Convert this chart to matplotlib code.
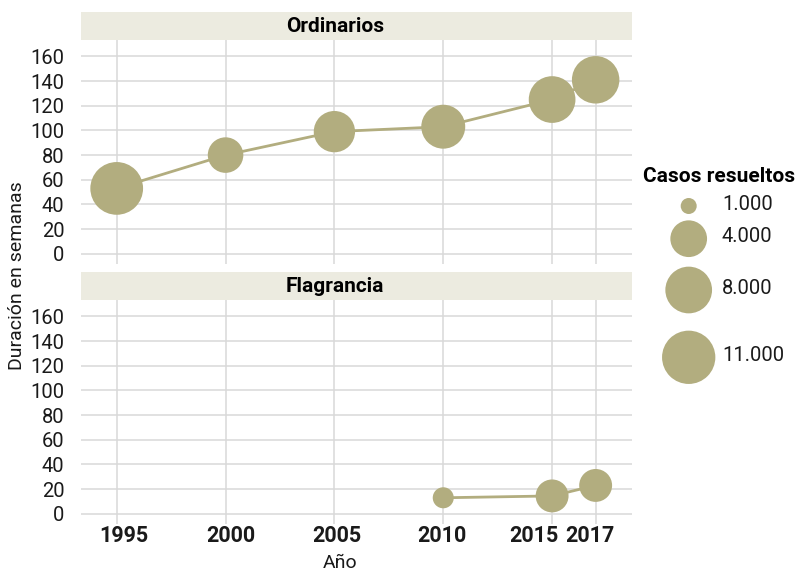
import numpy as np
import matplotlib
matplotlib.use("Agg")
import matplotlib.pyplot as plt
from matplotlib.patches import Rectangle
from matplotlib.transforms import blended_transform_factory, ScaledTranslation

# ---------------- data ----------------
ord_years = [1995, 2000, 2005, 2010, 2015, 2017]
ord_duration = [53, 80, 99, 103, 125, 141]
ord_cases = [10700, 3700, 5500, 6600, 8000, 8300]

flag_years = [2010, 2015, 2017]
flag_duration = [13, 14.5, 23]
flag_cases = [1400, 3100, 3100]

panels = ["Ordinarios", "Flagrancia"]
year_ticks = [1995, 2000, 2005, 2010, 2015, 2017]
y_ticks = [0, 20, 40, 60, 80, 100, 120, 140, 160]
legend_breaks = [1000, 4000, 8000, 11000]
legend_labels = ["1.000", "4.000", "8.000", "11.000"]

# ---------------- style ----------------
W, H = 801, 571
DPI = 100
PT = 72.0 / DPI
COL = "#b2ad7f"
STRIP = "#ecebe0"
GRID = "#d9d9d9"
TXT = "#1a1a1a"
FONT = ["Roboto", "DejaVu Sans"]
NARROW = ["Liberation Sans Narrow", "Roboto", "DejaVu Sans"]
plt.rcParams["font.family"] = FONT

legend_diam_px = [16, 36.7, 46.7, 53.3]
# horizontal nudges (pixels) of the year labels, as in the reference layout
xlabel_nudge_px = [7.4, 5.2, 2.8, -1.2, -18.0, -5.5]


def diam(v):
    return np.interp(np.log(np.asarray(v, float)), np.log(legend_breaks), legend_diam_px)


def msize(v):
    return (diam(v) * PT) ** 2


fig = plt.figure(figsize=(W / DPI, H / DPI), dpi=DPI)


def box(x0, y0, x1, y1):
    return [x0 / W, 1 - y1 / H, (x1 - x0) / W, (y1 - y0) / H]


PX0, PX1 = 81, 632
panel_rows = [(12, 40, 264), (272, 300, 524)]
series = [(ord_years, ord_duration, ord_cases), (flag_years, flag_duration, flag_cases)]

for i, (name, (s0, p0, p1), (xs, ys, cs)) in enumerate(zip(panels, panel_rows, series)):
    # strip
    sax = fig.add_axes(box(PX0, s0, PX1, p0))
    sax.set_xlim(0, 1); sax.set_ylim(0, 1)
    sax.add_patch(Rectangle((0, 0), 1, 1, color=STRIP, lw=0))
    sax.axis("off")
    sax.text((335 - PX0) / (PX1 - PX0), 0.5, name, ha="center", va="center",
             fontsize=15, fontweight="bold", family=NARROW, color="black")

    ax = fig.add_axes(box(PX0, p0, PX1, p1))
    ax.set_xlim(1993.36, 2018.67)
    ax.set_ylim(-8.25, 173.25)
    for sp in ax.spines.values():
        sp.set_visible(False)
    ax.set_yticks(y_ticks, labels=[str(v) for v in y_ticks], fontsize=14.5, color=TXT)
    ax.set_xticks(year_ticks, labels=[])
    ax.grid(True, color=GRID, lw=1.1)
    ax.set_axisbelow(True)
    ax.tick_params(length=0)
    ax.tick_params(axis="y", pad=12)
    if i == 1:
        bt = blended_transform_factory(ax.transData, ax.transAxes)
        for yr, dx in zip(year_ticks, xlabel_nudge_px):
            tr = bt + ScaledTranslation(dx / DPI, -12 / DPI, fig.dpi_scale_trans)
            ax.text(yr, 0, str(yr), transform=tr, ha="center", va="center",
                    fontsize=15.5, fontweight="bold", color=TXT, clip_on=False)
    ax.plot(xs, ys, color=COL, lw=2, zorder=2)
    ax.scatter(xs, ys, s=msize(cs), color=COL, lw=0, zorder=3)

fig.text(17.5 / W, 1 - 276 / H, "Duración en semanas", rotation=90, ha="center", va="center",
         fontsize=14, color=TXT)
fig.text(340 / W, 1 - 563 / H, "Año", ha="center", va="center", fontsize=14, color=TXT)

# legend
fig.text(719.5 / W, 1 - 176 / H, "Casos resueltos", ha="center", va="center", fontsize=15,
         fontweight="bold", color="black")
lax = fig.add_axes([0, 0, 1, 1])
lax.set_xlim(0, W); lax.set_ylim(H, 0)
lax.axis("off")
leg_y = [206, 238.7, 290, 357.3]
lax.scatter([688.7] * len(legend_breaks), leg_y, s=msize(legend_breaks), color=COL, lw=0)
for yy, lab in zip(leg_y, legend_labels):
    lax.text(722, yy - 2, lab, ha="left", va="center", fontsize=14.5, color=TXT)

fig.savefig("out.png", dpi=DPI)
